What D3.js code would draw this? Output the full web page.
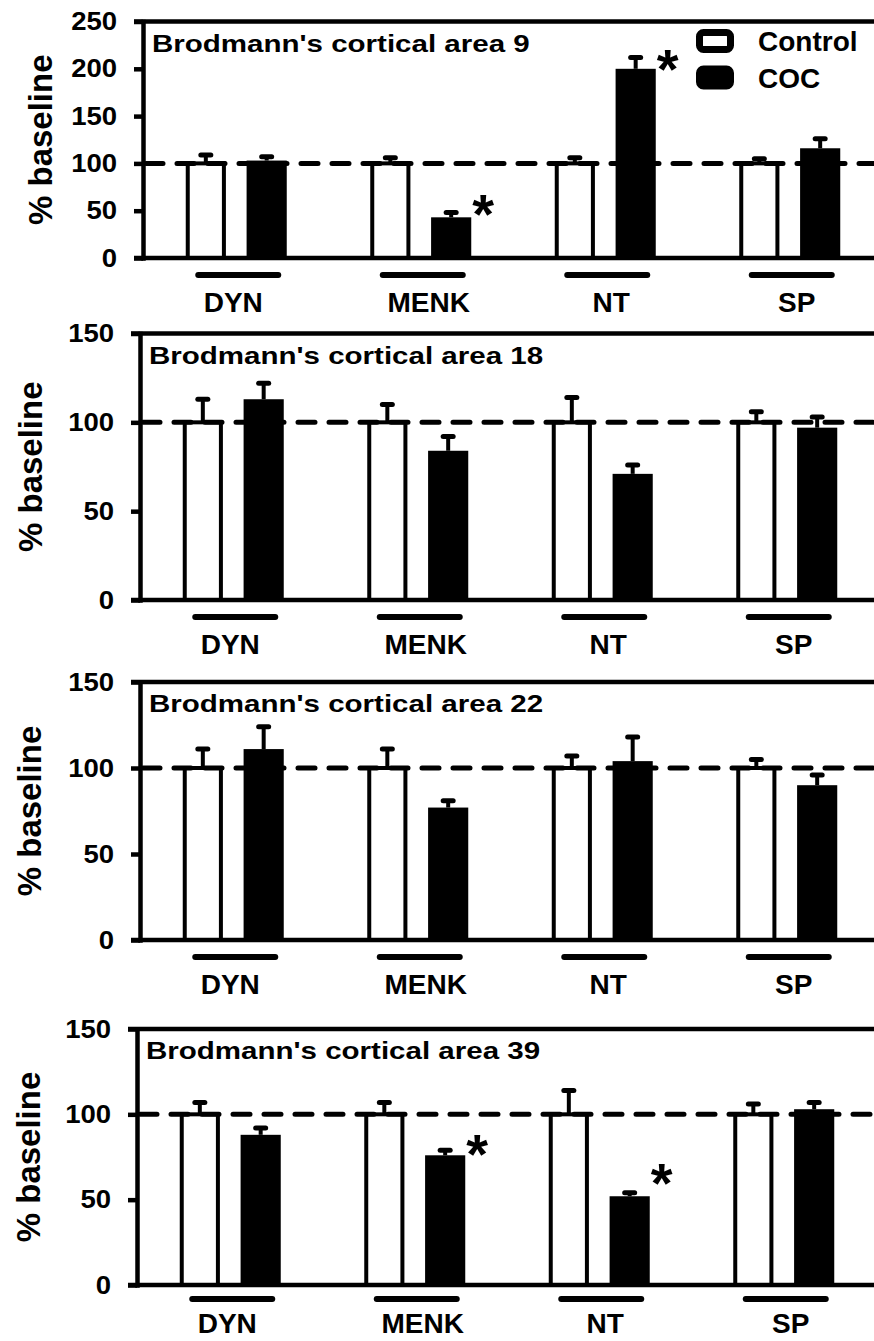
<!DOCTYPE html>
<html>
<head>
<meta charset="utf-8">
<script src="https://cdn.jsdelivr.net/npm/d3@7"></script>
<style>
  body { margin: 0; background: #fff; }
  svg { display: block; }
  text { font-family: "Liberation Sans", Arial, sans-serif; font-weight: bold; fill: #000; }
</style>
</head>
<body>
<svg id="chart" width="874" height="1341"></svg>
<script>
// data
var categories = ["DYN", "MENK", "NT", "SP"];
var series = ["Control", "COC"];
var areas = ["9", "18", "22", "39"];
var yMax = [250, 150, 150, 150];
var yTicks = [[0, 50, 100, 150, 200, 250], [0, 50, 100, 150], [0, 50, 100, 150], [0, 50, 100, 150]];
var baseline = 100;

var controlMean = [[100, 100, 100, 100], [100, 100, 100, 100], [100, 100, 100, 100], [100, 100, 100, 100]];
var controlErr  = [[9, 6, 6, 5], [13, 10, 14, 6], [11, 11, 7, 5], [7, 7, 14, 6]];
var cocMean     = [[103, 43, 200, 116], [113, 84, 71, 97], [111, 77, 104, 90], [88, 76, 52, 103]];
var cocErr      = [[4, 5, 12, 10], [9, 8, 5, 6], [13, 4, 14, 6], [4, 3, 2, 4]];
// significance stars (value where the * sits, null = none)
var stars       = [[null, 61, 215, null], [null, null, null, null], [null, null, null, null], [null, 85, 68, null]];

// panel layout
var W = 874;
var axisX  = [143, 140, 140, 137];
var topY   = [21.5, 333.5, 682, 1029];
var zeroY  = [258, 600, 940, 1285];
var ylabX  = [40, 30, 29, 28];
var ulineDy = [17, 17, 17, 14];
var catDy   = [54, 54, 54, 48];
var catShift = [-3, 8, 6, 7];
var step = 184.5;

var svg = d3.select("#chart");

areas.forEach(function(area, p) {
  var g = svg.append("g");
  var ax = axisX[p];

  var y = d3.scaleLinear().domain([0, yMax[p]]).range([zeroY[p], topY[p]]);
  var x0 = d3.scaleBand().domain(categories).range([ax + 1, ax + 1 + 4 * step]);
  var x1 = d3.scaleBand().domain(series).range([-50.5, 50.5]).paddingInner(0.34);
  var bw = x1.bandwidth();

  var rows = categories.map(function(c, i) {
    return {cat: c, vals: [
      {s: "Control", m: controlMean[p][i], e: controlErr[p][i]},
      {s: "COC", m: cocMean[p][i], e: cocErr[p][i]}
    ], star: stars[p][i]};
  });
  function cx(c) { return x0(c) + x0.bandwidth() / 2; }

  // bars
  var grp = g.selectAll(".grp").data(rows).enter().append("g")
    .attr("class", "grp")
    .attr("transform", function(d) { return "translate(" + cx(d.cat) + ",0)"; });

  grp.selectAll(".bar").data(function(d) { return d.vals; }).enter().append("rect")
    .attr("class", "bar")
    .attr("x", function(d) { return d.s === "Control" ? x1(d.s) + 2 : x1(d.s); })
    .attr("width", function(d) { return d.s === "Control" ? bw - 4 : bw; })
    .attr("y", function(d) { return y(d.m); })
    .attr("height", function(d) { return y(0) - y(d.m); })
    .attr("fill", function(d) { return d.s === "Control" ? "#fff" : "#000"; })
    .attr("stroke", function(d) { return d.s === "Control" ? "#000" : "none"; })
    .attr("stroke-width", 4);

  // dashed 100% line
  g.append("line")
    .attr("x1", ax + 3).attr("x2", W + 10)
    .attr("y1", y(baseline)).attr("y2", y(baseline))
    .attr("stroke", "#000").attr("stroke-width", 5)
    .attr("stroke-linecap", "round")
    .attr("stroke-dasharray", "17,14");

  // error bars (upper only)
  var eb = grp.selectAll(".err").data(function(d) { return d.vals; }).enter().append("g").attr("class", "err");
  eb.append("line")
    .attr("x1", function(d) { return x1(d.s) + bw / 2; })
    .attr("x2", function(d) { return x1(d.s) + bw / 2; })
    .attr("y1", function(d) { return y(d.m); })
    .attr("y2", function(d) { return y(d.m + d.e); })
    .attr("stroke", "#000").attr("stroke-width", 4);
  eb.append("line")
    .attr("x1", function(d) { return x1(d.s) + bw / 2 - 5; })
    .attr("x2", function(d) { return x1(d.s) + bw / 2 + 5; })
    .attr("y1", function(d) { return y(d.m + d.e); })
    .attr("y2", function(d) { return y(d.m + d.e); })
    .attr("stroke", "#000").attr("stroke-width", 5).attr("stroke-linecap", "round");

  // stars
  grp.filter(function(d) { return d.star !== null; }).append("text")
    .attr("x", x1("COC") + bw + 12)
    .attr("y", function(d) { return y(d.star) + 33; })
    .attr("text-anchor", "middle")
    .style("font-size", "56px")
    .text("*");

  // y axis
  var yAxis = d3.axisLeft(y).tickValues(yTicks[p]).tickSize(9).tickSizeOuter(0).tickPadding(14.6);
  var ag = g.append("g").attr("transform", "translate(" + ax + ",0)").call(yAxis);
  ag.select(".domain").attr("stroke-width", 4.5).attr("stroke-linecap", "square");
  ag.selectAll(".tick line").attr("stroke-width", 4.5);
  ag.selectAll(".tick text")
    .attr("transform", "scale(1.1,1)")
    .style("font-size", "25px")
    .style("font-family", "'Liberation Sans', Arial, sans-serif")
    .style("font-weight", "bold")
    .attr("fill", "#000");

  // top frame and zero line
  [yMax[p], 0].forEach(function(v) {
    g.append("line")
      .attr("x1", ax - 9).attr("x2", W + 10)
      .attr("y1", y(v)).attr("y2", y(v))
      .attr("stroke", "#000").attr("stroke-width", 4.5);
  });

  // group underlines and labels
  g.selectAll(".uline").data(categories).enter().append("line")
    .attr("x1", function(c) { return cx(c) + 2 - 40; })
    .attr("x2", function(c) { return cx(c) + 2 + 40; })
    .attr("y1", zeroY[p] + ulineDy[p]).attr("y2", zeroY[p] + ulineDy[p])
    .attr("stroke", "#000").attr("stroke-width", 6).attr("stroke-linecap", "round");
  g.selectAll(".cat").data(categories).enter().append("text")
    .attr("x", function(c, i) { return cx(c) + catShift[i]; })
    .attr("y", zeroY[p] + catDy[p])
    .attr("text-anchor", "middle")
    .style("font-size", "28px")
    .text(function(c) { return c; });

  // panel title
  g.append("text")
    .attr("transform", "translate(" + (ax + 9) + "," + (topY[p] + 30) + ") scale(1.23,1)")
    .style("font-size", "24px")
    .text("Brodmann's cortical area " + area);

  // y label
  g.append("text")
    .attr("transform", "translate(" + ylabX[p] + "," + ((topY[p] + zeroY[p]) / 2) + ") rotate(-90)")
    .attr("text-anchor", "middle")
    .attr("dy", "0.36em")
    .style("font-size", "33px")
    .text("% baseline");
});

// legend (top panel)
var leg = svg.append("g");
var legY = [41, 77.5];
leg.selectAll("rect").data(series).enter().append("rect")
  .attr("x", 699.5)
  .attr("y", function(d, i) { return legY[i] - 8.5; })
  .attr("width", 31).attr("height", 17).attr("rx", 4)
  .attr("fill", function(d) { return d === "Control" ? "#fff" : "#000"; })
  .attr("stroke", "#000").attr("stroke-width", 7);
leg.selectAll("text").data(series).enter().append("text")
  .attr("x", 758)
  .attr("y", function(d, i) { return legY[i] + 10; })
  .style("font-size", "28px")
  .text(function(d) { return d; });
</script>
</body>
</html>
